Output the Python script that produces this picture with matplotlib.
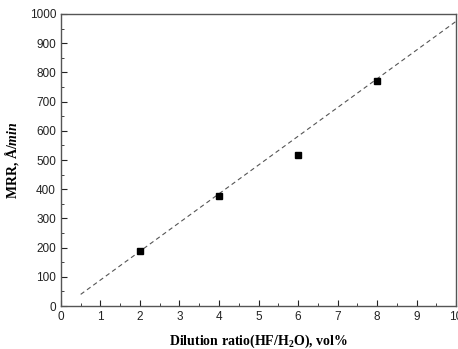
import matplotlib.pyplot as plt
from matplotlib.ticker import MultipleLocator

plt.rcParams["mathtext.fontset"] = "custom"
plt.rcParams["mathtext.rm"] = "Liberation Serif:bold"
plt.rcParams["mathtext.it"] = "Liberation Serif:italic:bold"
plt.rcParams["mathtext.bf"] = "Liberation Serif:bold"

dilution = [2, 4, 6, 8]
mrr = [190, 378, 518, 770]

fit_x = [0.5, 10]
fit_y = [40, 975]

x_ticks = [0, 1, 2, 3, 4, 5, 6, 7, 8, 9, 10]
x_labels = ["0", "1", "2", "3", "4", "5", "6", "7", "8", "9", "10"]
y_ticks = [0, 100, 200, 300, 400, 500, 600, 700, 800, 900, 1000]

fig = plt.figure(figsize=(4.58, 3.49), dpi=100)
ax = fig.add_axes([0.133, 0.123, 0.863, 0.837])

ax.plot(fit_x, fit_y, color="#555555", linestyle=(0, (4, 3)), linewidth=0.8)
ax.plot(dilution, mrr, linestyle="none", marker="s", markersize=4, color="black")

ax.set_xlim(0, 10)
ax.set_ylim(0, 1000)
ax.set_xticks(x_ticks)
ax.set_xticklabels(x_labels)
ax.set_yticks(y_ticks)
ax.xaxis.set_minor_locator(MultipleLocator(0.5))
ax.yaxis.set_minor_locator(MultipleLocator(50))
ax.tick_params(which="both", direction="in", labelsize=8.5, colors="#222222")
ax.tick_params(which="major", length=4, width=0.8)
ax.tick_params(which="minor", length=2, width=0.6)
for lbl in ax.get_xticklabels() + ax.get_yticklabels():
    lbl.set_family("Liberation Sans")

for s in ax.spines.values():
    s.set_color("#555555")
    s.set_linewidth(1.0)

ax.set_xlabel("Dilution ratio(HF/H$_2$O), vol%", family="Liberation Serif",
              fontweight="bold", fontsize=10, labelpad=7)
ax.set_ylabel("MRR, Å/$\\mathit{min}$", family="Liberation Serif",
              fontweight="bold", fontsize=10, labelpad=6)

fig.savefig("out.png", dpi=100)
